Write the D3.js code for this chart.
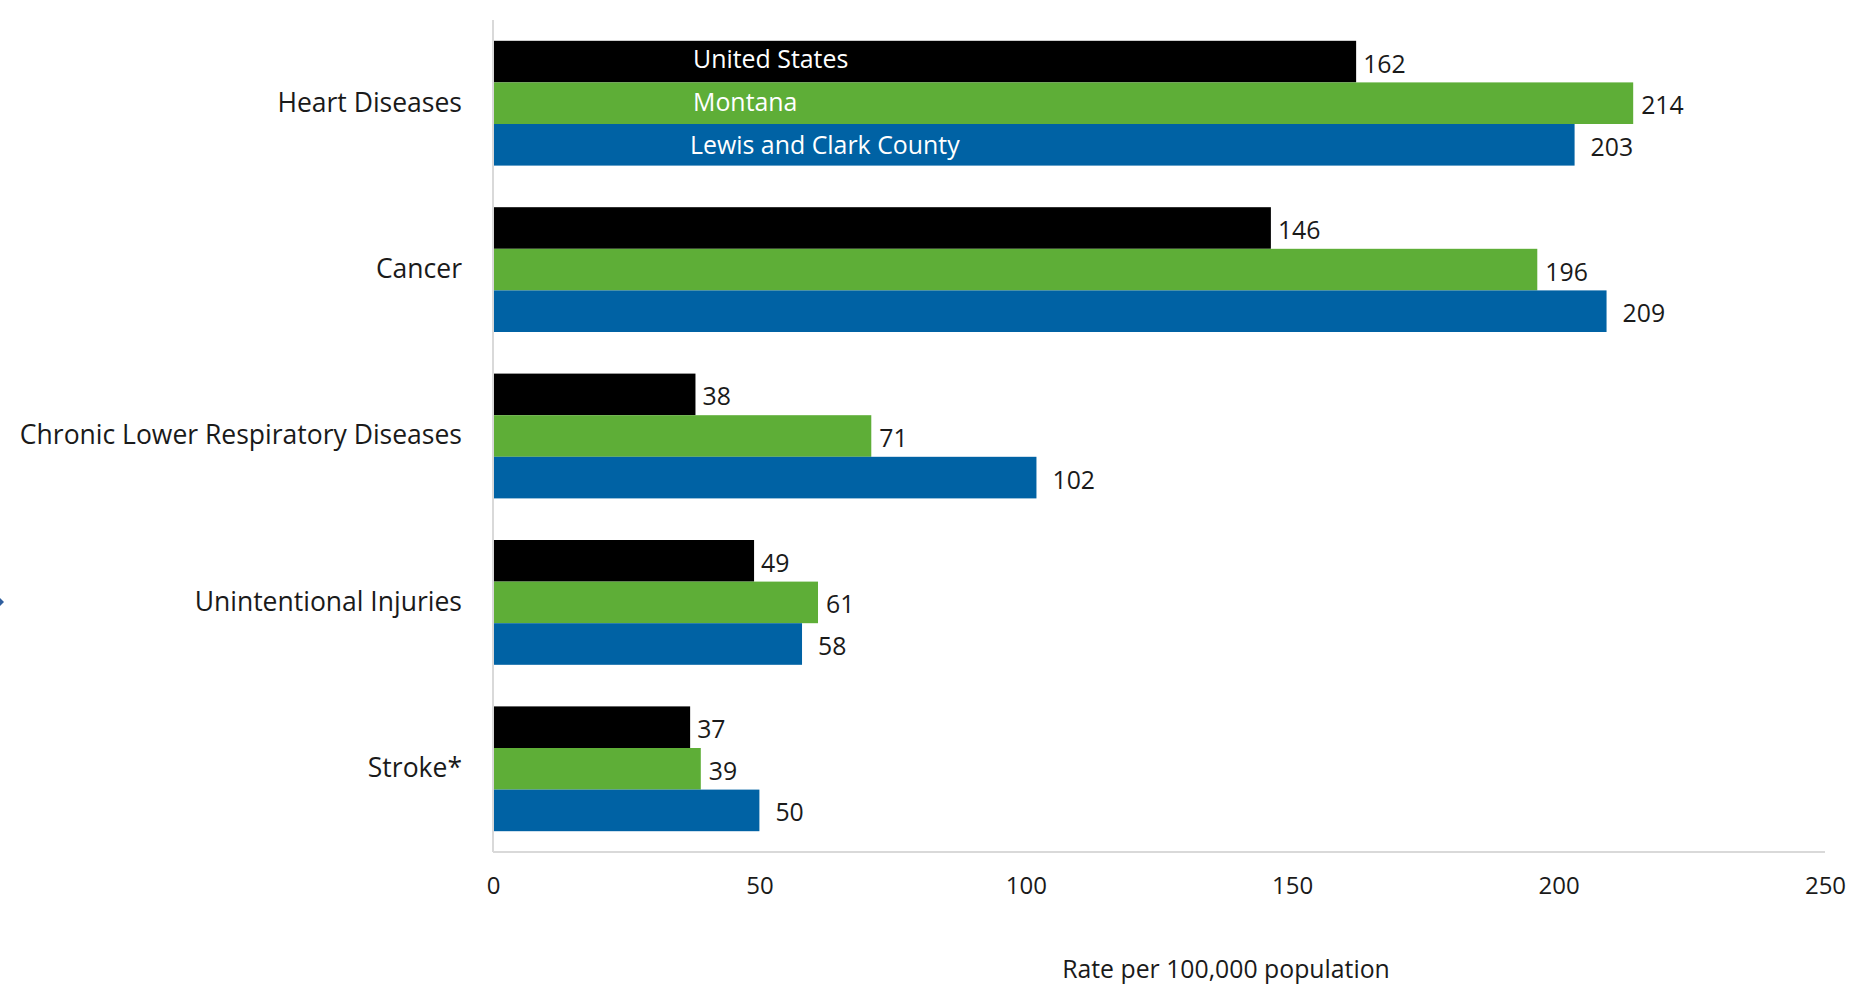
<!DOCTYPE html>
<html>
<head>
<meta charset="utf-8">
<script src="https://cdn.jsdelivr.net/npm/d3@7"></script>
<style>
  html, body { margin: 0; padding: 0; background: #fff; }
  svg { display: block; }
  text { font-family: "Open Sans", Lato, sans-serif; fill: #1a1a1a; }
</style>
</head>
<body>
<svg id="chart" width="1857" height="984"></svg>
<script>
// Age-adjusted death rates, leading causes
const categories = ["Heart Diseases", "Cancer", "Chronic Lower Respiratory Diseases", "Unintentional Injuries", "Stroke*"];
const seriesNames = ["United States", "Montana", "Lewis and Clark County"];
const unitedStates = [162, 146, 38, 49, 37];
const montana = [214, 196, 71, 61, 39];
const lewisClark = [203, 209, 102, 58, 50];
const xTicks = [0, 50, 100, 150, 200, 250];
const axisTitle = "Rate per 100,000 population";

const seriesValues = [unitedStates, montana, lewisClark];
const colors = ["#000000", "#5eae37", "#0062a4"];
const labelGap = [7, 8, 16];
const nameOffset = [200, 200, 197];
const nameShift = [-4, -2, -1];

const svg = d3.select("#chart");
const plotLeft = 493, plotRight = 1825, plotTop = 20, plotBottom = 852;
const fs = 24;
const valueFs = 24.8;
const nameFs = 24.9;
const catFs = 26.5;
const fontStack = "'Open Sans', Lato, sans-serif";

const x = d3.scaleLinear().domain([0, 250]).range([plotLeft, plotRight]);
const y0 = d3.scaleBand().domain(categories).range([plotTop, plotBottom]).paddingInner(0.25).paddingOuter(0.125);
const y1 = d3.scaleBand().domain(d3.range(seriesNames.length)).range([0, y0.bandwidth()]);

// bars
const groups = svg.append("g").selectAll("g")
  .data(categories)
  .join("g")
  .attr("transform", d => `translate(0,${y0(d)})`);

groups.each(function(cat, ci) {
  const g = d3.select(this);
  seriesValues.forEach((vals, si) => {
    g.append("rect")
      .attr("x", x(0))
      .attr("y", y1(si))
      .attr("width", x(vals[ci]) - x(0))
      .attr("height", y1.bandwidth())
      .attr("fill", colors[si]);
  });
  seriesValues.forEach((vals, si) => {
    g.append("text")
      .attr("x", x(vals[ci]) + labelGap[si])
      .attr("y", y1(si) + y1.bandwidth() / 2 + 1)
      .attr("dominant-baseline", "central")
      .attr("font-size", valueFs)
      .text(vals[ci]);
  });
});

// series names drawn inside the first group's bars
seriesNames.forEach((name, si) => {
  svg.append("text")
    .attr("x", x(0) + nameOffset[si])
    .attr("y", y0(categories[0]) + y1(si) + y1.bandwidth() / 2 + nameShift[si])
    .attr("dominant-baseline", "central")
    .attr("font-size", nameFs)
    .style("fill", "#ffffff")
    .text(name);
});

// axis lines
svg.append("line")
  .attr("x1", plotLeft).attr("x2", plotLeft).attr("y1", plotTop).attr("y2", plotBottom)
  .attr("stroke", "#d9d9d9").attr("stroke-width", 2);
svg.append("line")
  .attr("x1", plotLeft).attr("x2", plotRight).attr("y1", plotBottom).attr("y2", plotBottom)
  .attr("stroke", "#d9d9d9").attr("stroke-width", 2);

// x axis tick labels
const xAxis = d3.axisBottom(x).tickValues(xTicks).tickSize(0).tickPadding(0);
const gx = svg.append("g").attr("transform", `translate(0,${plotBottom})`).call(xAxis);
gx.select(".domain").remove();
gx.selectAll("text")
  .attr("y", 34)
  .attr("dy", "0.35em")
  .attr("font-size", fs)
  .style("font-family", fontStack)
  .style("fill", "#1a1a1a");

// y axis category labels
const yAxis = d3.axisLeft(y0).tickSize(0).tickPadding(31);
const gy = svg.append("g").attr("transform", `translate(${plotLeft},0)`).call(yAxis);
gy.select(".domain").remove();
gy.selectAll("text")
  .attr("font-size", catFs)
  .style("font-family", fontStack)
  .style("fill", "#1a1a1a");

// axis title
svg.append("text")
  .attr("x", 1226)
  .attr("y", 968)
  .attr("text-anchor", "middle")
  .attr("dominant-baseline", "central")
  .attr("font-size", 24.8)
  .text(axisTitle);

// small marker at the left edge
svg.append("path")
  .attr("d", "M0,598 L4,602 L0,606 Z")
  .attr("fill", "#2f5f9e");
</script>
</body>
</html>
